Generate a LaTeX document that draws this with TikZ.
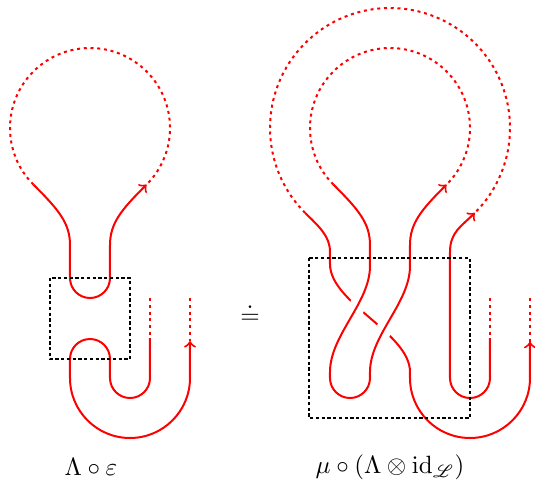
\documentclass[tikz,border=0pt]{standalone}
\usepackage{mathrsfs}
\begin{document}
\begin{tikzpicture}[x=0.4pt,y=-0.4pt,
  strand/.style={red,thick},
  dotstrand/.style={red,thick,dash pattern=on 1.2pt off 1.5pt},
  boxline/.style={black,thick,dash pattern=on 1.3pt off 1pt},
  over/.style={white,line width=6.5pt}]
\useasboundingbox (0,0) rectangle (535,495);
% ---------- left figure ----------
\draw[dotstrand] (33.43,184.57) arc[start angle=135,end angle=405,radius=80];
\draw[strand,->] (33.43,184.57) .. controls +(25,25) and +(0,-22) .. (70,245) -- (70,278)
  arc[start angle=180,end angle=0,radius=20] -- (110,245)
  .. controls +(0,-22) and +(-25,25) .. (146.57,184.57);
\draw[strand,->] (150,338) -- (150,378) arc[start angle=0,end angle=180,radius=20]
  -- (110,359) arc[start angle=0,end angle=-180,radius=20]
  -- (70,378) arc[start angle=180,end angle=0,radius=60] -- (190,341);
\draw[dotstrand] (150,298) -- (150,338);
\draw[dotstrand] (190,298) -- (190,341);
\draw[boxline] (50,278) rectangle (130,359);
% ---------- equals ----------
\node[anchor=base,inner sep=0pt] (eq) at (250,323) {$\doteq$};
% ---------- right figure ----------
\draw[dotstrand] (333.43,184.57) arc[start angle=135,end angle=405,radius=80];
\draw[dotstrand] (305.15,212.85) arc[start angle=135,end angle=405,radius=120];
\draw[strand,->] (305.15,212.85) .. controls +(14,14) and +(0,-16) .. (330,252) -- (330,264)
  .. controls (330,303) and (410,333) .. (410,372) -- (410,378)
  arc[start angle=180,end angle=0,radius=60] -- (530,341.7);
\draw[over] (370,266) .. controls (370,303) and (330,335) .. (330,372);
\draw[over] (370,372) .. controls (370,335) and (410,303) .. (410,266);
\draw[strand,->] (333.43,184.57) .. controls +(25,25) and +(0,-22) .. (370,245) -- (370,266)
  .. controls (370,303) and (330,335) .. (330,372) -- (330,378)
  arc[start angle=180,end angle=0,radius=20] -- (370,372)
  .. controls (370,335) and (410,303) .. (410,266) -- (410,245)
  .. controls +(0,-22) and +(-25,25) .. (446.57,184.57);
\draw[strand,->] (490,338) -- (490,378) arc[start angle=0,end angle=180,radius=20]
  -- (450,252) .. controls +(0,-20) and +(-13,13) .. (474.85,212.85);
\draw[dotstrand] (490,298) -- (490,338);
\draw[dotstrand] (530,298) -- (530,341.7);
\draw[boxline] (309,258) rectangle (470,418);
% ---------- labels ----------
\node (lab1) at (91,467) {$\Lambda\circ\varepsilon$};
\node (lab2) at (390,467) {$\mu\circ(\Lambda\otimes\mathrm{id}_{\mathscr{L}})$};
\end{tikzpicture}
\end{document}
